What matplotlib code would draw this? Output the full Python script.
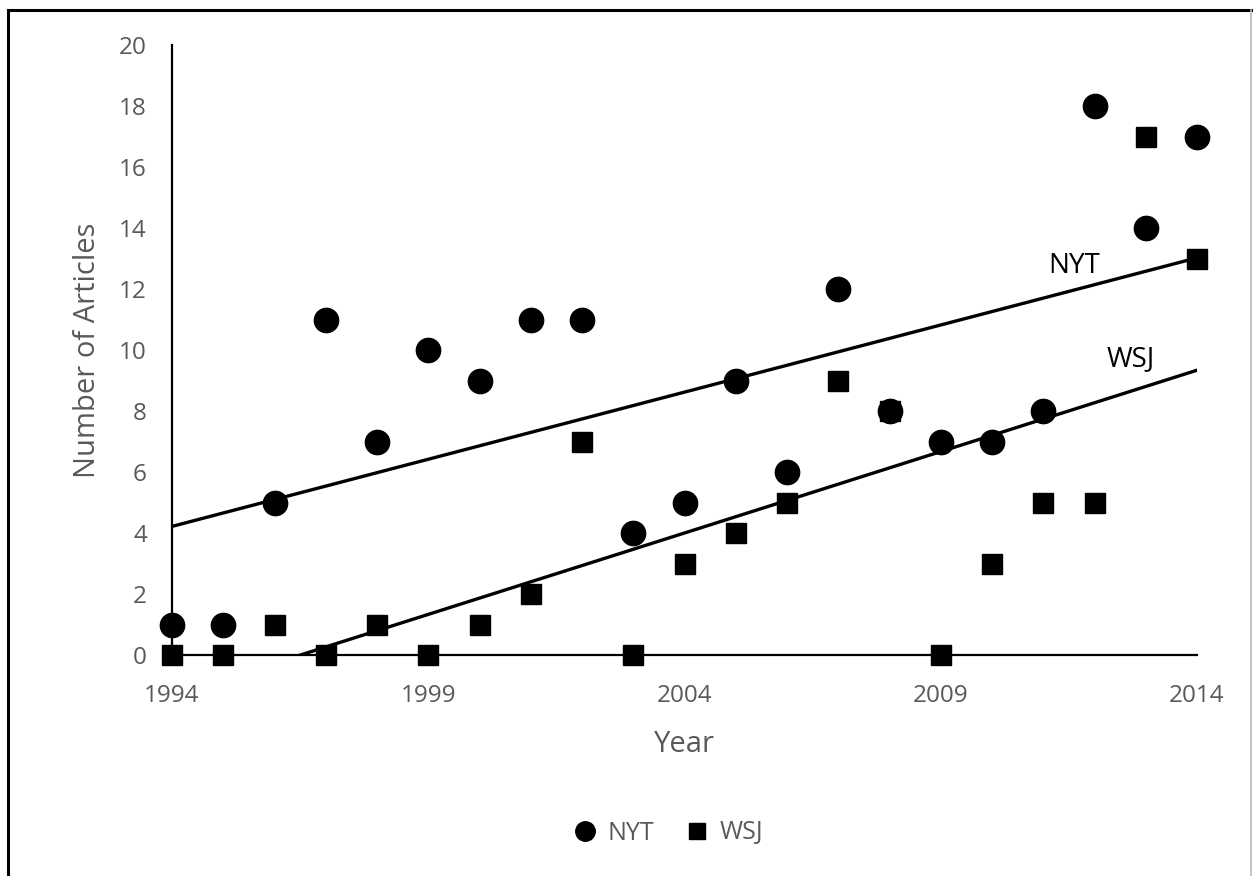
import numpy as np
import matplotlib.pyplot as plt
from matplotlib.lines import Line2D

years = np.arange(1994, 2015)
nyt = [1, 1, 5, 11, 7, 10, 9, 11, 11, 4, 5, 9, 6, 12, 8, 7, 7, 8, 18, 14, 17]
wsj = [0, 0, 1, 0, 1, 0, 1, 2, 7, 0, 3, 4, 5, 9, 8, 0, 3, 5, 5, 17, 13]
xticks = [1994, 1999, 2004, 2009, 2014]
yticks = list(range(0, 21, 2))

grey = '#595959'
plt.rcParams['font.family'] = ['Open Sans', 'DejaVu Sans']

fig = plt.figure(figsize=(12.53, 8.76), dpi=100)
ax = fig.add_axes([172/1253, 1-655/876, (1197-172)/1253, (655-45)/876])

# linear trend lines
xx = np.array([1994, 2014])
for vals in (nyt, wsj):
    k, m = np.polyfit(years, vals, 1)
    ax.plot(xx, k*xx + m, color='black', lw=2.4, zorder=2)

ax.plot(years, nyt, 'o', color='black', ms=17.5, clip_on=False, zorder=3, label='NYT')
ax.plot(years, wsj, 's', color='black', ms=15, clip_on=False, zorder=3, label='WSJ')

ax.text(2011.6, 12.75, 'NYT', fontsize=20, color='black', ha='center', va='center')
ax.text(2012.7, 9.7, 'WSJ', fontsize=20, color='black', ha='center', va='center')

ax.set_xlim(1994, 2014)
ax.set_ylim(0, 20)
ax.set_xticks(xticks)
ax.set_yticks(yticks)
ax.tick_params(length=0, labelsize=17.5, labelcolor=grey)
ax.tick_params(axis='x', pad=21)
ax.tick_params(axis='y', pad=18)
for s in ['top', 'right']:
    ax.spines[s].set_visible(False)
for s in ['left', 'bottom']:
    ax.spines[s].set_linewidth(1.6)
    ax.spines[s].set_color('black')

ax.set_xlabel('Year', fontsize=21, color=grey, labelpad=16)
ax.set_ylabel('Number of Articles', fontsize=21, color=grey, labelpad=12)

handles = [Line2D([], [], marker='o', ls='', color='black', ms=14),
           Line2D([], [], marker='s', ls='', color='black', ms=11.5)]
leg = fig.legend(handles, ['NYT', 'WSJ'], loc='center', bbox_to_anchor=(668/1253, 1-833/876),
                 ncol=2, frameon=False, fontsize=18, handletextpad=0.4, columnspacing=1.2,
                 handlelength=1.0)
for t in leg.get_texts():
    t.set_color(grey)

# frame around the chart
fig.add_artist(Line2D([8/1253, 8/1253], [0, 1-10/876], color='black', lw=2.2))
fig.add_artist(Line2D([8/1253, 1], [1-10/876, 1-10/876], color='black', lw=2.2))
fig.add_artist(Line2D([1251/1253, 1251/1253], [0, 1-10/876], color='#bbbbbb', lw=1.2))

fig.savefig('out.png', dpi=100)
